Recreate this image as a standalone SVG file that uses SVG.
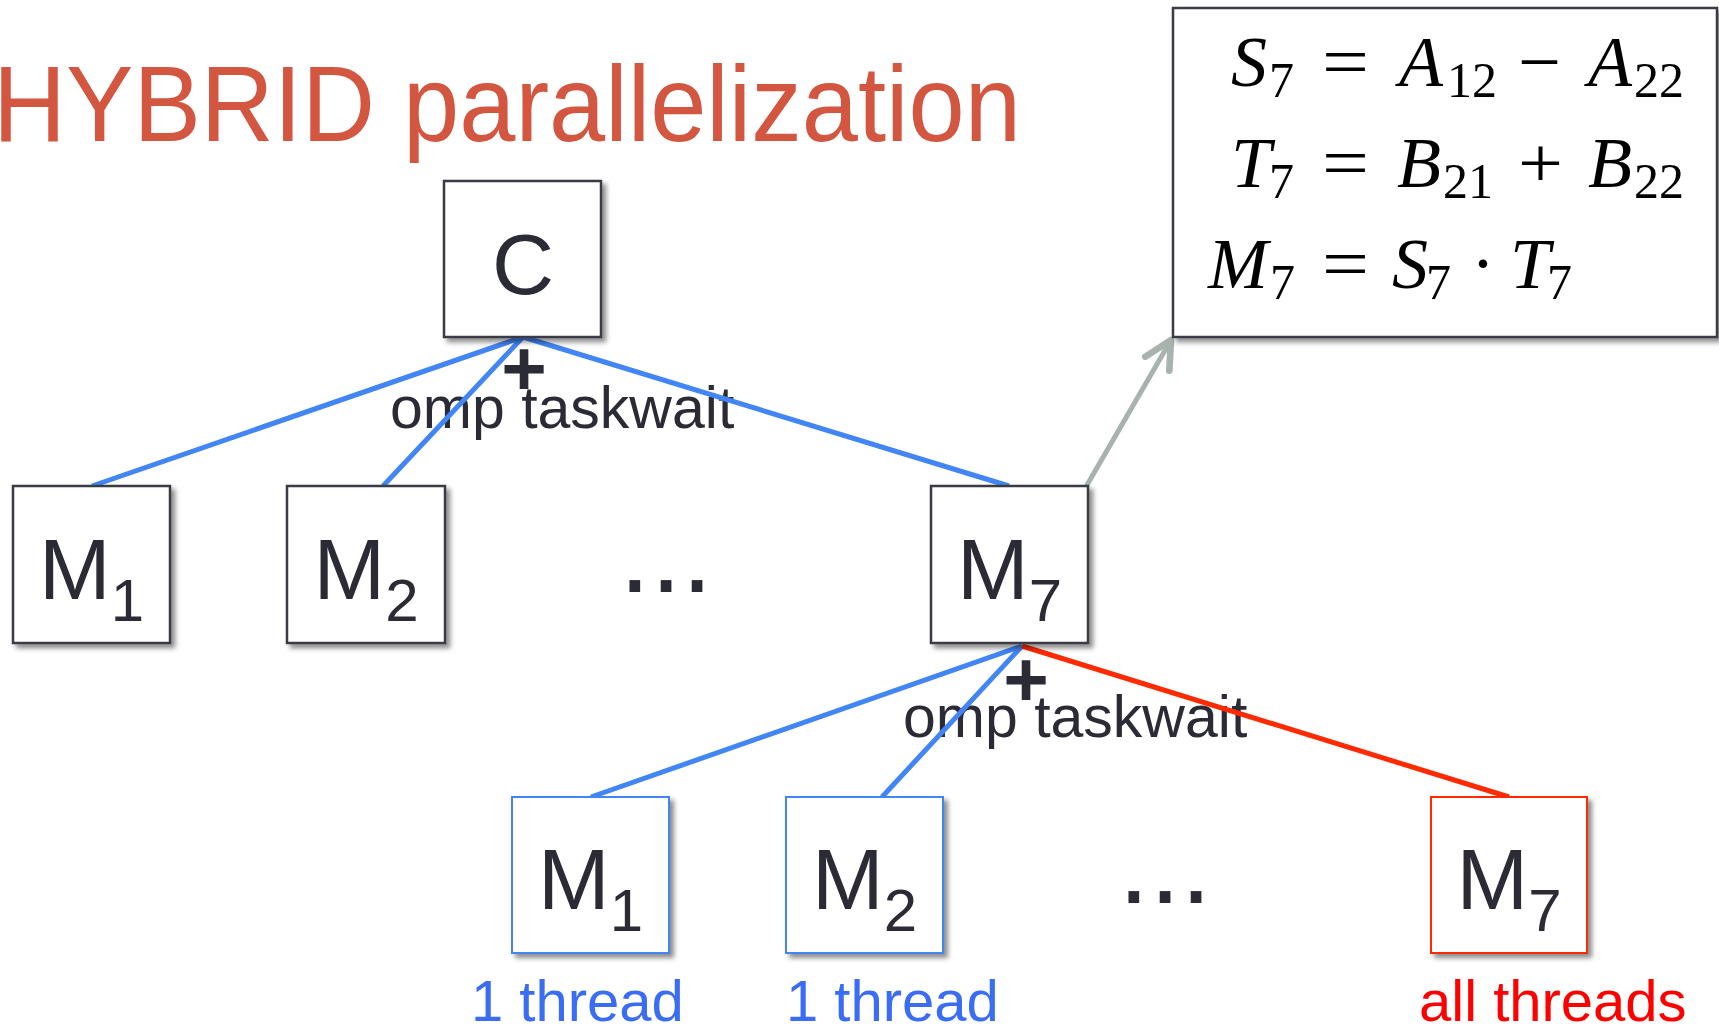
<svg xmlns="http://www.w3.org/2000/svg" width="1719" height="1027" viewBox="0 0 1719 1027">
  <style>
    .sans { font-family: "Liberation Sans", Arial, sans-serif; }
    .box { fill: #ffffff; stroke: #3a3a44; stroke-width: 2.5; filter: url(#shadow); }
    .box-blue { fill: #ffffff; stroke: #4285f4; stroke-width: 2; filter: url(#shadow); }
    .box-red { fill: #ffffff; stroke: #ff2a00; stroke-width: 2; filter: url(#shadow); }
    .label { font-family: "Liberation Sans", Arial, sans-serif; font-size: 86px; fill: #2b2b35; }
    .sub { font-size: 60px; }
    .note { font-family: "Liberation Sans", Arial, sans-serif; font-size: 59px; fill: #2b2b35; }
    .thread-one { font-family: "Liberation Sans", Arial, sans-serif; font-size: 58px; fill: #3a6cf4; }
    .thread-all { font-family: "Liberation Sans", Arial, sans-serif; font-size: 58px; fill: #ff0000; }
    .plus { font-family: "Liberation Sans", Arial, sans-serif; font-size: 78px; font-weight: bold; fill: #2b2b35; }
    .dots { font-family: "Liberation Sans", Arial, sans-serif; font-size: 112px; fill: #2b2b35; }
    .edge-blue { stroke: #4285f4; stroke-width: 5; fill: none; }
    .edge-red { stroke: #ff2a00; stroke-width: 5; fill: none; }
    .edge-grey { stroke: #a8b3ad; stroke-width: 5; fill: none; stroke-linecap: round; }
    .math { font-family: "Liberation Serif", "Times New Roman", serif; font-size: 72px; fill: #000; }
    .mi { font-style: italic; }
    .msub { font-family: "Liberation Serif", "Times New Roman", serif; font-size: 50px; fill: #000; }
  </style>
  <defs>
    <filter id="shadow" x="-10%" y="-10%" width="130%" height="130%">
      <feDropShadow dx="4" dy="4" stdDeviation="2.5" flood-color="#000" flood-opacity="0.45"/>
    </filter>
    <marker id="chevron" markerUnits="userSpaceOnUse" markerWidth="40" markerHeight="40" refX="0" refY="0" orient="auto" viewBox="-25 -15 30 30" overflow="visible">
      <path d="M -20.5 -10.4 L 0 0 L -20.5 10.4" fill="none" stroke="#a8b3ad" stroke-width="5" stroke-linecap="round" stroke-linejoin="round"/>
    </marker>
  </defs>

  <rect width="1719" height="1027" fill="#ffffff"/>

  <!-- title -->
  <text class="sans" x="-7" y="141" font-size="108" fill="#d35640" textLength="1028" lengthAdjust="spacingAndGlyphs">HYBRID parallelization</text>

  <!-- taskwait annotations -->
  <g id="sync-top">
    <text class="plus" x="524" y="395" text-anchor="middle">+</text>
    <text class="note" x="390" y="428">omp taskwait</text>
  </g>
  <g id="sync-m7">
    <text class="plus" x="1026" y="706" text-anchor="middle">+</text>
    <text class="note" x="903" y="737">omp taskwait</text>
  </g>

  <!-- connectors -->
  <g id="connectors">
    <line class="edge-blue" x1="523" y1="337" x2="92" y2="486"/>
    <line class="edge-blue" x1="523" y1="337" x2="383" y2="486"/>
    <line class="edge-blue" x1="523" y1="337" x2="1009" y2="486"/>
    <line class="edge-blue" x1="1022" y1="646" x2="591" y2="797"/>
    <line class="edge-blue" x1="1022" y1="646" x2="882" y2="797"/>
    <line class="edge-red" x1="1022" y1="646" x2="1509" y2="797"/>
    <line class="edge-grey" x1="1087" y1="485" x2="1171" y2="340" marker-end="url(#chevron)"/>
  </g>

  <!-- root -->
  <g id="node-C">
    <rect class="box" x="444" y="181" width="157" height="156"/>
    <text class="label" x="523" y="294" text-anchor="middle">C</text>
  </g>

  <!-- first level -->
  <g id="node-M1">
    <rect class="box" x="13" y="486" width="157" height="157"/>
    <text class="label" x="91.5" y="599" text-anchor="middle">M<tspan class="sub" dy="22">1</tspan></text>
  </g>
  <g id="node-M2">
    <rect class="box" x="287" y="486" width="158" height="157"/>
    <text class="label" x="366" y="599" text-anchor="middle">M<tspan class="sub" dy="22">2</tspan></text>
  </g>
  <text class="dots" x="666" y="592" text-anchor="middle">...</text>
  <g id="node-M7">
    <rect class="box" x="931" y="486" width="157" height="157"/>
    <text class="label" x="1009.5" y="599" text-anchor="middle">M<tspan class="sub" dy="22">7</tspan></text>
  </g>

  <!-- second level -->
  <g id="node-M7-M1">
    <rect class="box-blue" x="512" y="797" width="157" height="156"/>
    <text class="label" x="590.5" y="909" text-anchor="middle">M<tspan class="sub" dy="22">1</tspan></text>
    <text class="thread-one" x="471" y="1021">1 thread</text>
  </g>
  <g id="node-M7-M2">
    <rect class="box-blue" x="786" y="797" width="157" height="156"/>
    <text class="label" x="864.5" y="909" text-anchor="middle">M<tspan class="sub" dy="22">2</tspan></text>
    <text class="thread-one" x="786" y="1021">1 thread</text>
  </g>
  <text class="dots" x="1165" y="903" text-anchor="middle">...</text>
  <g id="node-M7-M7">
    <rect class="box-red" x="1431" y="797" width="156" height="156"/>
    <text class="label" x="1509" y="909" text-anchor="middle">M<tspan class="sub" dy="22">7</tspan></text>
    <text class="thread-all" x="1419" y="1021">all threads</text>
  </g>

  <!-- formula box for M7 -->
  <g id="formula">
    <rect class="box" x="1173" y="8" width="544" height="329"/>
    <!-- S7 = A12 - A22 -->
    <text class="math mi" x="1231" y="86">S</text>
    <text class="msub" x="1269" y="97">7</text>
    <text class="math" x="1322" y="86" textLength="47" lengthAdjust="spacingAndGlyphs">=</text>
    <text class="math mi" x="1399" y="86">A</text>
    <text class="msub" x="1447" y="97">12</text>
    <text class="math" x="1518" y="86" textLength="43" lengthAdjust="spacingAndGlyphs">−</text>
    <text class="math mi" x="1588" y="86">A</text>
    <text class="msub" x="1634" y="97">22</text>
    <!-- T7 = B21 + B22 -->
    <text class="math mi" x="1231" y="187">T</text>
    <text class="msub" x="1269" y="198">7</text>
    <text class="math" x="1322" y="187" textLength="47" lengthAdjust="spacingAndGlyphs">=</text>
    <text class="math mi" x="1397" y="187">B</text>
    <text class="msub" x="1443" y="198">21</text>
    <text class="math" x="1518" y="187" textLength="45" lengthAdjust="spacingAndGlyphs">+</text>
    <text class="math mi" x="1588" y="187">B</text>
    <text class="msub" x="1634" y="198">22</text>
    <!-- M7 = S7 . T7 -->
    <text class="math mi" x="1208" y="288">M</text>
    <text class="msub" x="1270" y="299">7</text>
    <text class="math" x="1322" y="288" textLength="47" lengthAdjust="spacingAndGlyphs">=</text>
    <text class="math mi" x="1392" y="288">S</text>
    <text class="msub" x="1426" y="299">7</text>
    <text class="math" x="1483" y="288" text-anchor="middle">·</text>
    <text class="math mi" x="1510" y="288">T</text>
    <text class="msub" x="1547" y="299">7</text>
  </g>
</svg>
